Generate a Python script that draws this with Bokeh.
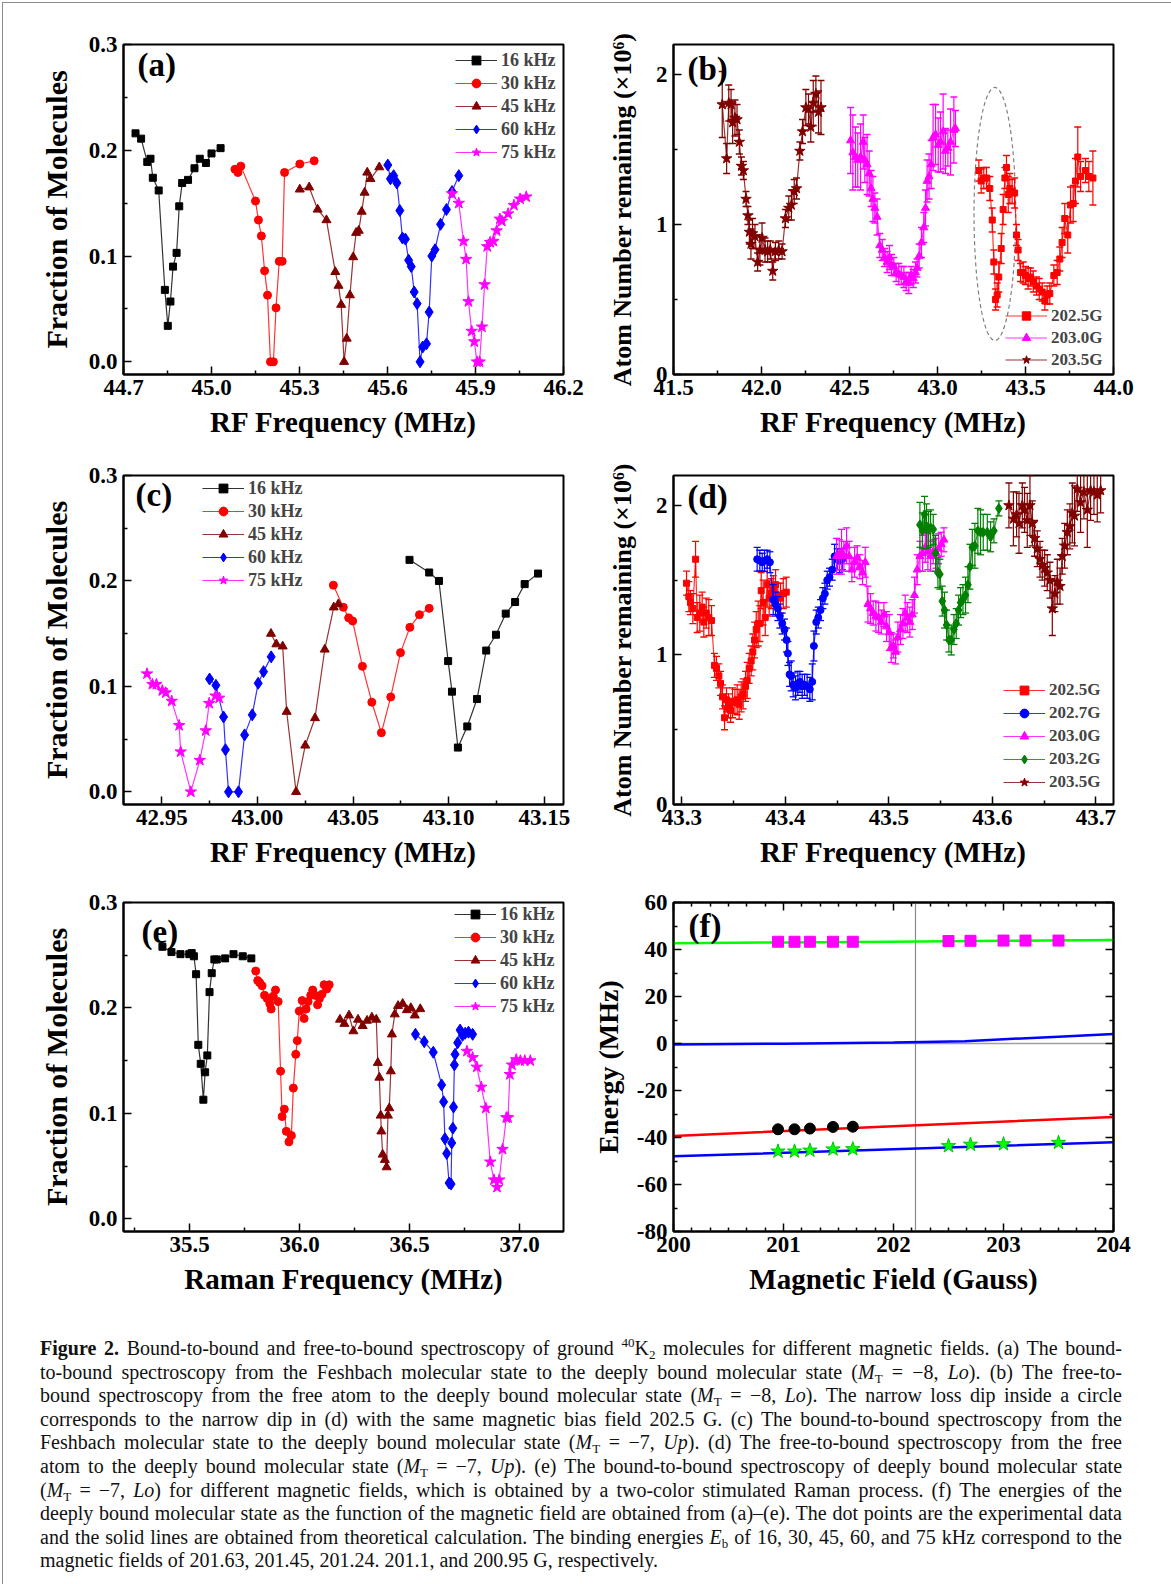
from bokeh.plotting import figure
from bokeh.models import (ColumnDataSource, FixedTicker, NumeralTickFormatter, Legend, LegendItem,
                          Label, Span, Div, LinearAxis, CustomJSTickFormatter)
from bokeh.layouts import column, row
from bokeh.embed import file_html
from bokeh.resources import INLINE

FONT = "Liberation Serif"
BLACK, RED, DRED, BLUE, MAG, GREEN = "#000000", "#FF0000", "#800000", "#0000FF", "#FF00FF", "#008000"

# ---------------- Panel (a) ----------------
a16_x = [44.741, 44.760, 44.781, 44.792, 44.800, 44.820, 44.841, 44.851, 44.860, 44.869, 44.881, 44.890, 44.900, 44.920, 44.942, 44.960, 44.981, 45.000, 45.031]
a16_y = [0.216, 0.211, 0.189, 0.192, 0.174, 0.162, 0.068, 0.034, 0.057, 0.090, 0.103, 0.147, 0.169, 0.172, 0.183, 0.192, 0.188, 0.197, 0.202]
a30_x = [45.080, 45.090, 45.100, 45.150, 45.160, 45.170, 45.181, 45.191, 45.201, 45.211, 45.220, 45.231, 45.241, 45.249, 45.301, 45.350]
a30_y = [0.182, 0.179, 0.185, 0.152, 0.134, 0.119, 0.086, 0.063, 0.0, 0.0, 0.051, 0.095, 0.095, 0.179, 0.187, 0.190]
a45_x = [45.301, 45.333, 45.362, 45.392, 45.422, 45.433, 45.442, 45.452, 45.461, 45.472, 45.483, 45.493, 45.502, 45.512, 45.522, 45.531, 45.542, 45.572]
a45_y = [0.163, 0.165, 0.144, 0.134, 0.085, 0.072, 0.054, 0.0, 0.022, 0.063, 0.099, 0.122, 0.124, 0.142, 0.160, 0.179, 0.173, 0.184]
a60_x = [45.601, 45.610, 45.621, 45.632, 45.642, 45.651, 45.661, 45.672, 45.681, 45.691, 45.701, 45.711, 45.720, 45.733, 45.742, 45.751, 45.762, 45.781, 45.801, 45.820, 45.843]
a60_y = [0.186, 0.173, 0.176, 0.169, 0.143, 0.117, 0.116, 0.096, 0.090, 0.066, 0.055, 0.0, 0.014, 0.017, 0.047, 0.100, 0.106, 0.130, 0.144, 0.161, 0.176]
a75_x = [45.820, 45.843, 45.859, 45.868, 45.876, 45.887, 45.896, 45.905, 45.914, 45.922, 45.931, 45.940, 45.950, 45.961, 45.972, 45.983, 45.990, 46.011, 46.031, 46.052, 46.073]
a75_y = [0.159, 0.150, 0.114, 0.097, 0.057, 0.029, 0.019, 0.0, 0.0, 0.033, 0.073, 0.109, 0.113, 0.114, 0.124, 0.135, 0.133, 0.140, 0.148, 0.154, 0.156]

# ---------------- Panel (b) ----------------
b25_x = [43.235, 43.248, 43.263, 43.278, 43.297, 43.311, 43.320, 43.330, 43.339, 43.348, 43.362, 43.373, 43.383, 43.392, 43.402, 43.411, 43.424, 43.438, 43.449, 43.458, 43.472, 43.487, 43.500, 43.515, 43.528, 43.544, 43.563, 43.578, 43.595, 43.610, 43.623, 43.638, 43.661, 43.680, 43.695, 43.708, 43.723, 43.740, 43.756, 43.771, 43.784, 43.797, 43.813, 43.841, 43.860, 43.883]
b25_y = [1.36, 1.29, 1.31, 1.31, 1.24, 1.03, 0.75, 0.50, 0.53, 0.65, 0.84, 1.10, 1.31, 1.38, 1.20, 1.24, 1.22, 1.21, 0.93, 0.83, 0.68, 0.68, 0.66, 0.64, 0.65, 0.62, 0.59, 0.57, 0.55, 0.49, 0.53, 0.54, 0.66, 0.68, 0.77, 0.88, 1.04, 0.93, 1.13, 1.14, 1.29, 1.45, 1.32, 1.36, 1.32, 1.31]
b25_e = [0.07, 0.08, 0.07, 0.07, 0.08, 0.08, 0.08, 0.07, 0.08, 0.10, 0.10, 0.10, 0.07, 0.08, 0.12, 0.10, 0.08, 0.10, 0.07, 0.07, 0.06, 0.07, 0.06, 0.07, 0.06, 0.07, 0.06, 0.07, 0.06, 0.06, 0.06, 0.07, 0.07, 0.08, 0.08, 0.10, 0.10, 0.12, 0.12, 0.12, 0.15, 0.20, 0.10, 0.08, 0.10, 0.18]
b30_x = [42.506, 42.519, 42.534, 42.547, 42.563, 42.578, 42.587, 42.600, 42.612, 42.623, 42.633, 42.644, 42.657, 42.672, 42.686, 42.699, 42.714, 42.727, 42.739, 42.752, 42.765, 42.780, 42.794, 42.809, 42.822, 42.837, 42.850, 42.862, 42.875, 42.884, 42.896, 42.909, 42.922, 42.932, 42.941, 42.952, 42.964, 42.975, 42.989, 43.004, 43.017, 43.032, 43.045, 43.059, 43.074, 43.093, 43.102]
b30_y = [1.56, 1.48, 1.45, 1.43, 1.45, 1.55, 1.43, 1.40, 1.34, 1.24, 1.17, 1.11, 1.05, 0.86, 0.83, 0.78, 0.75, 0.78, 0.73, 0.72, 0.68, 0.67, 0.66, 0.65, 0.62, 0.61, 0.66, 0.64, 0.68, 0.71, 0.79, 0.88, 0.98, 1.11, 1.29, 1.32, 1.40, 1.58, 1.60, 1.53, 1.55, 1.62, 1.49, 1.51, 1.55, 1.63, 1.64]
b30_e = [0.22, 0.25, 0.20, 0.18, 0.22, 0.18, 0.15, 0.20, 0.15, 0.12, 0.15, 0.10, 0.12, 0.08, 0.07, 0.06, 0.07, 0.08, 0.07, 0.06, 0.06, 0.07, 0.06, 0.07, 0.06, 0.07, 0.06, 0.06, 0.07, 0.06, 0.08, 0.10, 0.10, 0.12, 0.14, 0.15, 0.16, 0.22, 0.20, 0.18, 0.20, 0.25, 0.15, 0.12, 0.22, 0.22, 0.12]
b35_x = [41.777, 41.802, 41.814, 41.827, 41.836, 41.849, 41.861, 41.874, 41.886, 41.897, 41.912, 41.923, 41.931, 41.940, 41.949, 41.963, 41.978, 41.991, 42.003, 42.020, 42.035, 42.050, 42.064, 42.079, 42.098, 42.117, 42.136, 42.155, 42.170, 42.186, 42.199, 42.218, 42.233, 42.252, 42.267, 42.280, 42.294, 42.309, 42.324, 42.338]
b35_y = [1.80, 1.44, 1.81, 1.80, 1.68, 1.71, 1.70, 1.55, 1.39, 1.36, 1.17, 1.06, 0.95, 0.87, 0.94, 0.92, 0.75, 0.83, 0.91, 0.83, 0.82, 0.83, 0.69, 0.82, 0.83, 0.82, 1.04, 1.11, 1.13, 1.22, 1.24, 1.49, 1.62, 1.78, 1.77, 1.65, 1.81, 1.87, 1.75, 1.78]
b35_e = [0.22, 0.10, 0.12, 0.10, 0.14, 0.12, 0.10, 0.08, 0.06, 0.06, 0.05, 0.06, 0.08, 0.10, 0.10, 0.08, 0.06, 0.10, 0.10, 0.08, 0.07, 0.06, 0.06, 0.06, 0.06, 0.05, 0.06, 0.08, 0.10, 0.08, 0.07, 0.06, 0.08, 0.12, 0.10, 0.10, 0.15, 0.12, 0.14, 0.18]
# dashed circle marking the narrow dip (centre, width, height in data units)
ell_x, ell_y, ell_w, ell_h = 43.326, 1.07, 0.237, 1.69

# ---------------- Panel (c) ----------------
c16_x = [43.0795, 43.0898, 43.0949, 43.0997, 43.1017, 43.1048, 43.1097, 43.1148, 43.1196, 43.1247, 43.1298, 43.1347, 43.1397, 43.1467]
c16_y = [0.220, 0.208, 0.200, 0.124, 0.095, 0.042, 0.062, 0.088, 0.134, 0.149, 0.169, 0.180, 0.197, 0.207]
c30_x = [43.0397, 43.0449, 43.0477, 43.0498, 43.0549, 43.0598, 43.0648, 43.0697, 43.0748, 43.0797, 43.0847, 43.0898]
c30_y = [0.196, 0.175, 0.165, 0.162, 0.119, 0.085, 0.056, 0.090, 0.132, 0.156, 0.168, 0.174]
c45_x = [43.0071, 43.0099, 43.0132, 43.0153, 43.0202, 43.0250, 43.0301, 43.0352, 43.0399, 43.0423]
c45_y = [0.150, 0.140, 0.138, 0.076, 0.0, 0.044, 0.070, 0.135, 0.175, 0.178]
c60_x = [42.9750, 42.9783, 42.9823, 42.9833, 42.9849, 42.9901, 42.9933, 42.9973, 43.0004, 43.0032, 43.0072]
c60_y = [0.107, 0.101, 0.071, 0.040, 0.0, 0.0, 0.054, 0.073, 0.103, 0.114, 0.128]
c75_x = [42.9423, 42.9451, 42.9472, 42.9503, 42.9521, 42.9552, 42.9591, 42.9599, 42.9652, 42.9699, 42.9730, 42.9748, 42.9781, 42.9800]
c75_y = [0.112, 0.102, 0.102, 0.096, 0.094, 0.086, 0.063, 0.038, 0.0, 0.030, 0.058, 0.084, 0.091, 0.089]

# ---------------- Panel (d) ----------------
d25_x = [43.3046, 43.3068, 43.3084, 43.3107, 43.3133, 43.3149, 43.3174, 43.3197, 43.3213, 43.3236, 43.3261, 43.3287, 43.3316, 43.3335, 43.3358, 43.3374, 43.3393, 43.3413, 43.3432, 43.3451, 43.3471, 43.3490, 43.3513, 43.3535, 43.3554, 43.3574, 43.3593, 43.3616, 43.3632, 43.3651, 43.3670, 43.3686, 43.3703, 43.3719, 43.3738, 43.3754, 43.3767, 43.3786, 43.3806, 43.3825, 43.3844, 43.3864, 43.3883, 43.3906, 43.3928, 43.3954, 43.3980, 43.4009]
d25_y = [1.48, 1.39, 1.35, 1.31, 1.64, 1.25, 1.28, 1.32, 1.22, 1.28, 1.25, 1.23, 0.93, 0.91, 0.86, 0.81, 0.72, 0.58, 0.70, 0.66, 0.63, 0.68, 0.69, 0.70, 0.67, 0.72, 0.74, 0.79, 0.83, 0.91, 0.96, 1.02, 1.10, 1.17, 1.21, 1.21, 1.43, 1.35, 1.25, 1.47, 1.38, 1.41, 1.43, 1.47, 1.40, 1.38, 1.41, 1.42]
d25_e = [0.08, 0.10, 0.08, 0.10, 0.12, 0.10, 0.12, 0.10, 0.10, 0.10, 0.12, 0.10, 0.08, 0.08, 0.08, 0.08, 0.08, 0.08, 0.08, 0.08, 0.08, 0.10, 0.08, 0.10, 0.10, 0.10, 0.10, 0.10, 0.12, 0.10, 0.10, 0.12, 0.12, 0.12, 0.15, 0.12, 0.12, 0.15, 0.12, 0.15, 0.12, 0.10, 0.10, 0.10, 0.08, 0.10, 0.10, 0.10]
d27_x = [43.3728, 43.3754, 43.3777, 43.3799, 43.3825, 43.3851, 43.3883, 43.3906, 43.3928, 43.3947, 43.3970, 43.3992, 43.4012, 43.4025, 43.4041, 43.4057, 43.4076, 43.4099, 43.4121, 43.4141, 43.4163, 43.4186, 43.4211, 43.4237, 43.4260, 43.4276, 43.4299, 43.4318, 43.4340, 43.4363, 43.4382, 43.4405, 43.4427, 43.4453, 43.4476, 43.4501, 43.4524, 43.4550]
d27_y = [1.64, 1.63, 1.62, 1.63, 1.64, 1.62, 1.37, 1.34, 1.31, 1.26, 1.21, 1.17, 1.10, 1.01, 0.87, 0.86, 0.80, 0.78, 0.81, 0.82, 0.79, 0.80, 0.79, 0.77, 0.82, 1.06, 1.22, 1.25, 1.30, 1.38, 1.41, 1.50, 1.52, 1.57, 1.66, 1.64, 1.63, 1.64]
d27_e = [0.08, 0.07, 0.06, 0.07, 0.06, 0.07, 0.10, 0.08, 0.08, 0.08, 0.07, 0.07, 0.08, 0.08, 0.08, 0.10, 0.08, 0.08, 0.08, 0.07, 0.08, 0.07, 0.08, 0.08, 0.12, 0.10, 0.08, 0.07, 0.07, 0.07, 0.07, 0.06, 0.06, 0.07, 0.08, 0.07, 0.08, 0.07]
d30_x = [43.4495, 43.4521, 43.4543, 43.4566, 43.4592, 43.4617, 43.4643, 43.4669, 43.4695, 43.4720, 43.4746, 43.4772, 43.4798, 43.4823, 43.4849, 43.4875, 43.4901, 43.4927, 43.4952, 43.4978, 43.5004, 43.5023, 43.5043, 43.5065, 43.5088, 43.5113, 43.5136, 43.5158, 43.5178, 43.5203, 43.5226, 43.5248, 43.5274, 43.5300, 43.5326, 43.5352, 43.5377, 43.5403, 43.5429, 43.5455, 43.5480, 43.5506, 43.5532]
d30_y = [1.66, 1.67, 1.69, 1.66, 1.73, 1.66, 1.57, 1.62, 1.65, 1.59, 1.55, 1.62, 1.34, 1.31, 1.28, 1.26, 1.25, 1.22, 1.27, 1.19, 1.15, 1.05, 1.06, 1.02, 1.12, 1.17, 1.21, 1.28, 1.25, 1.22, 1.27, 1.40, 1.57, 1.66, 1.68, 1.72, 1.69, 1.66, 1.69, 1.68, 1.71, 1.74, 1.77]
d30_e = [0.12, 0.10, 0.15, 0.10, 0.12, 0.10, 0.08, 0.10, 0.08, 0.08, 0.08, 0.10, 0.12, 0.10, 0.08, 0.10, 0.10, 0.08, 0.08, 0.10, 0.12, 0.10, 0.08, 0.08, 0.10, 0.10, 0.10, 0.12, 0.10, 0.10, 0.10, 0.12, 0.10, 0.10, 0.12, 0.10, 0.12, 0.10, 0.08, 0.10, 0.10, 0.08, 0.08]
d32_x = [43.5300, 43.5324, 43.5345, 43.5364, 43.5384, 43.5403, 43.5429, 43.5451, 43.5474, 43.5493, 43.5516, 43.5538, 43.5558, 43.5580, 43.5603, 43.5629, 43.5651, 43.5674, 43.5693, 43.5716, 43.5741, 43.5764, 43.5783, 43.5806, 43.5831, 43.5860, 43.5886, 43.5912, 43.5951, 43.5983, 43.6015, 43.6063]
d32_y = [1.87, 1.83, 1.94, 1.86, 1.84, 1.85, 1.84, 1.68, 1.55, 1.54, 1.36, 1.30, 1.20, 1.10, 1.10, 1.17, 1.21, 1.30, 1.35, 1.37, 1.40, 1.47, 1.59, 1.72, 1.73, 1.83, 1.82, 1.82, 1.82, 1.79, 1.83, 1.98]
d32_e = [0.15, 0.12, 0.12, 0.15, 0.12, 0.12, 0.10, 0.12, 0.10, 0.10, 0.10, 0.12, 0.10, 0.08, 0.10, 0.10, 0.10, 0.10, 0.10, 0.10, 0.12, 0.12, 0.15, 0.12, 0.15, 0.15, 0.15, 0.12, 0.12, 0.10, 0.08, 0.05]
d35_x = [43.6160, 43.6203, 43.6234, 43.6257, 43.6289, 43.6311, 43.6337, 43.6363, 43.6386, 43.6408, 43.6434, 43.6460, 43.6482, 43.6505, 43.6530, 43.6556, 43.6579, 43.6604, 43.6627, 43.6653, 43.6675, 43.6698, 43.6724, 43.6749, 43.6772, 43.6794, 43.6820, 43.6852, 43.6884, 43.6917, 43.6949, 43.6981, 43.7013, 43.7046]
d35_y = [2.00, 1.91, 1.94, 1.88, 2.00, 1.97, 1.90, 2.00, 1.88, 1.78, 1.71, 1.64, 1.60, 1.58, 1.55, 1.50, 1.31, 1.41, 1.49, 1.46, 1.66, 1.73, 1.82, 1.86, 1.95, 1.93, 2.11, 2.02, 2.09, 1.97, 2.10, 2.09, 2.07, 2.10]
d35_e = [0.15, 0.18, 0.15, 0.20, 0.15, 0.15, 0.18, 0.20, 0.15, 0.12, 0.12, 0.12, 0.10, 0.12, 0.12, 0.12, 0.18, 0.12, 0.15, 0.12, 0.12, 0.15, 0.15, 0.15, 0.20, 0.20, 0.15, 0.20, 0.18, 0.25, 0.20, 0.15, 0.18, 0.15]

# ---------------- Panel (e) ----------------
e16_x = [35.377, 35.418, 35.459, 35.499, 35.510, 35.520, 35.530, 35.540, 35.551, 35.563, 35.571, 35.581, 35.591, 35.601, 35.613, 35.624, 35.662, 35.700, 35.742, 35.781]
e16_y = [0.258, 0.253, 0.251, 0.251, 0.252, 0.249, 0.232, 0.165, 0.147, 0.113, 0.139, 0.155, 0.215, 0.233, 0.246, 0.246, 0.247, 0.251, 0.249, 0.247]
e30_x = [35.801, 35.810, 35.819, 35.830, 35.841, 35.853, 35.865, 35.871, 35.880, 35.891, 35.903, 35.914, 35.921, 35.931, 35.940, 35.952, 35.963, 35.972, 35.983, 35.990, 35.999, 36.012, 36.021, 36.030, 36.039, 36.051, 36.060, 36.070, 36.082, 36.091, 36.102, 36.112, 36.124, 36.135]
e30_y = [0.235, 0.226, 0.224, 0.221, 0.212, 0.209, 0.204, 0.199, 0.211, 0.217, 0.206, 0.140, 0.097, 0.104, 0.083, 0.073, 0.079, 0.124, 0.156, 0.169, 0.197, 0.207, 0.190, 0.199, 0.206, 0.212, 0.217, 0.212, 0.203, 0.209, 0.213, 0.222, 0.218, 0.222]
e45_x = [36.184, 36.204, 36.225, 36.245, 36.266, 36.287, 36.307, 36.329, 36.349, 36.356, 36.363, 36.369, 36.372, 36.378, 36.388, 36.396, 36.402, 36.408, 36.415, 36.420, 36.433, 36.448, 36.469, 36.488, 36.506, 36.524, 36.549]
e45_y = [0.189, 0.185, 0.193, 0.178, 0.189, 0.183, 0.188, 0.191, 0.189, 0.148, 0.134, 0.098, 0.083, 0.061, 0.056, 0.049, 0.098, 0.105, 0.140, 0.175, 0.194, 0.202, 0.204, 0.198, 0.200, 0.193, 0.199]
e60_x = [36.527, 36.567, 36.608, 36.646, 36.655, 36.661, 36.669, 36.680, 36.689, 36.692, 36.697, 36.700, 36.704, 36.707, 36.719, 36.730, 36.741, 36.753, 36.768, 36.787]
e60_y = [0.175, 0.168, 0.158, 0.127, 0.111, 0.076, 0.062, 0.034, 0.033, 0.072, 0.086, 0.106, 0.146, 0.156, 0.167, 0.179, 0.174, 0.176, 0.177, 0.175]
e75_x = [36.761, 36.787, 36.806, 36.826, 36.847, 36.867, 36.884, 36.898, 36.908, 36.923, 36.940, 36.948, 36.956, 36.966, 36.985, 37.004, 37.024, 37.049]
e75_y = [0.159, 0.153, 0.144, 0.125, 0.105, 0.054, 0.037, 0.030, 0.037, 0.066, 0.096, 0.096, 0.137, 0.146, 0.151, 0.150, 0.150, 0.150]

# ---------------- Panel (f) ----------------
f_sq_B = [200.95, 201.1, 201.24, 201.45, 201.63, 202.5, 202.7, 203.0, 203.2, 203.5]
f_sq_E = [43.3, 43.3, 43.3, 43.3, 43.3, 43.6, 43.7, 43.8, 43.8, 43.8]
f_ci_B = [200.95, 201.1, 201.24, 201.45, 201.63]
f_ci_E = [-36.5, -36.5, -36.2, -35.5, -35.4]
f_st_B = [200.95, 201.1, 201.24, 201.45, 201.63, 202.5, 202.7, 203.0, 203.5]
f_st_E = [-45.9, -45.9, -45.5, -45.0, -44.9, -43.6, -43.0, -42.8, -42.2]
f_green_B = [200, 201, 202, 203, 204]
f_green_E = [42.7, 43.0, 43.3, 43.7, 44.0]
f_bup_B = [200, 201, 202, 202.65, 203, 203.5, 204]
f_bup_E = [-0.4, -0.1, 0.4, 1.0, 1.8, 2.9, 4.0]
f_red_B = [200, 202, 204]
f_red_E = [-39.4, -35.2, -31.3]
f_blo_B = [200, 202, 204]
f_blo_E = [-48.0, -45.0, -42.0]
f_Bc = 202.2

# ---------------- ticks ----------------
a_xticks = [44.7, 45.0, 45.3, 45.6, 45.9, 46.2]
b_xticks = [41.5, 42.0, 42.5, 43.0, 43.5, 44.0]
c_xticks = [42.95, 43.00, 43.05, 43.10, 43.15]
d_xticks = [43.3, 43.4, 43.5, 43.6, 43.7]
e_xticks = [35.5, 36.0, 36.5, 37.0]
f_xticks = [200, 201, 202, 203, 204]
frac_yticks = [0.0, 0.1, 0.2, 0.3]
atom_yticks = [0, 1, 2]
f_yticks = [-80, -60, -40, -20, 0, 20, 40, 60]

kHz_labels = ["16 kHz", "30 kHz", "45 kHz", "60 kHz", "75 kHz"]


def minors(ticks, n, lo, hi):
    step = (ticks[1] - ticks[0]) / n
    out = []
    start = ticks[0] - step * n
    k = 0
    while True:
        v = start + k * step
        if v > hi + 1e-9:
            break
        if v >= lo - 1e-9 and k % n != 0:
            out.append(round(v, 6))
        k += 1
    return out


def style_axis(ax, lab_size="23px", axlab_size="29px"):
    ax.major_tick_in = 8
    ax.major_tick_out = 0
    ax.minor_tick_in = 4
    ax.minor_tick_out = 0
    ax.axis_line_width = 2
    ax.axis_line_color = "black"
    ax.major_tick_line_width = 1.5
    ax.minor_tick_line_width = 1.5
    ax.major_label_text_font = FONT
    ax.major_label_text_font_style = "bold"
    ax.major_label_text_font_size = lab_size
    ax.major_label_text_color = "black"
    ax.axis_label_text_font = FONT
    ax.axis_label_text_font_style = "bold"
    ax.axis_label_text_font_size = axlab_size
    ax.axis_label_text_color = "black"


def make_fig(xr, yr, w, h, bl, br, bt, bb, xt, xmin, xfmt, yt, ymin, yfmt, xlabel, ylabel, ylab_size="30px"):
    p = figure(width=w, height=h, x_range=xr, y_range=yr, output_backend="svg", toolbar_location=None,
               min_border_left=bl, min_border_right=br, min_border_top=bt, min_border_bottom=bb)
    p.xgrid.visible = False
    p.ygrid.visible = False
    p.outline_line_color = "black"
    p.outline_line_width = 2
    p.outline_line_alpha = 1.0
    p.background_fill_color = "white"
    p.border_fill_color = None
    xa = p.xaxis[0]
    ya = p.yaxis[0]
    style_axis(xa)
    style_axis(ya, axlab_size=ylab_size)
    xa.ticker = FixedTicker(ticks=xt, minor_ticks=xmin)
    ya.ticker = FixedTicker(ticks=yt, minor_ticks=ymin)
    if xfmt:
        xa.formatter = NumeralTickFormatter(format=xfmt)
    if yfmt:
        ya.formatter = NumeralTickFormatter(format=yfmt)
    xa.axis_label = xlabel
    ya.axis_label = ylabel
    xa.major_label_standoff = 5
    xa.axis_label_standoff = 8
    ya.major_label_standoff = 6
    ya.axis_label_standoff = 13
    return p


def series(p, xs, ys, color, marker, size, errs=None, lw=1.2, cap=7):
    if errs is not None:
        lo = [y - e for y, e in zip(ys, errs)]
        hi = [y + e for y, e in zip(ys, errs)]
        es = ColumnDataSource(dict(x=xs, lo=lo, hi=hi))
        p.segment("x", "lo", "x", "hi", source=es, line_color=color, line_width=1.2)
        p.scatter("x", "lo", source=es, marker="dash", size=cap, line_color=color, line_width=1.3)
        p.scatter("x", "hi", source=es, marker="dash", size=cap, line_color=color, line_width=1.3)
    src = ColumnDataSource(dict(x=xs, y=ys))
    ln = p.line("x", "y", source=src, line_color=color, line_width=lw, line_alpha=0.8)
    sc = p.scatter("x", "y", source=src, marker=marker, size=size, fill_color=color, line_color=color)
    return [ln, sc]


def add_legend(p, labels, rends, x, y, font="18px", gh=22, sp=1):
    lg = Legend(items=[LegendItem(label=l, renderers=r) for l, r in zip(labels, rends)],
                location=(x, y), padding=0, margin=0, spacing=sp, glyph_width=42,
                glyph_height=gh, label_height=gh, label_standoff=4,
                label_text_font=FONT, label_text_font_style="bold", label_text_font_size=font,
                background_fill_alpha=0, border_line_alpha=0)
    p.add_layout(lg)


def panel_label(p, text, dx, dtop, fh):
    p.add_layout(Label(x=dx, y=fh - dtop, x_units="screen", y_units="screen", text=text,
                       text_font=FONT, text_font_style="bold", text_font_size="33px",
                       text_baseline="top", text_color="black"))


# layout geometry (page origin at 0,0)
LW, LBL, LBR = 588, 123, 25
RW, RBL, RBR = 582, 85, 57

# ---------- (a) ----------
FH1 = 330
pa = make_fig((44.7, 46.2), (-0.012, 0.30), LW, 454, LBL, LBR, 44, 80,
              a_xticks, minors(a_xticks, 2, 44.7, 46.2), "0.0",
              frac_yticks, minors(frac_yticks, 2, -0.012, 0.3), "0.0",
              "RF Frequency (MHz)", "Fraction of Molecules")
ra = [series(pa, a16_x, a16_y, BLACK, "square", 7),
      series(pa, a30_x, a30_y, RED, "circle", 8),
      series(pa, a45_x, a45_y, DRED, "triangle", 9),
      series(pa, a60_x, a60_y, BLUE, "diamond", 12),
      series(pa, a75_x, a75_y, MAG, "star", 12)]
add_legend(pa, kHz_labels, ra, 332, 211)
panel_label(pa, "(a)", 14, 2, FH1)

# ---------- (b) ----------
pb = make_fig((41.5, 44.0), (0, 2.2), RW, 454, RBL, RBR, 44, 80,
              b_xticks, minors(b_xticks, 2, 41.5, 44.0), "0.0",
              atom_yticks, minors(atom_yticks, 2, 0, 2.2), "0",
              "RF Frequency (MHz)", "Atom Number remaining (×10⁶)", ylab_size="26px")
pb.yaxis[0].axis_label_standoff = 16
pb.ellipse(x=[ell_x], y=[ell_y], width=[ell_w], height=[ell_h], fill_alpha=0,
           line_color="#808080", line_dash="4 3", line_width=1.2)
rb35 = series(pb, b35_x, b35_y, DRED, "star", 11, b35_e)
rb30 = series(pb, b30_x, b30_y, MAG, "triangle", 8, b30_e)
rb25 = series(pb, b25_x, b25_y, RED, "square", 6, b25_e)
add_legend(pb, ["202.5G", "203.0G", "203.5G"], [rb25, rb30, rb35], 332, 4, font="17px", gh=21)
panel_label(pb, "(b)", 14, 6, FH1)

# ---------- (c) ----------
FH2 = 329
pc = make_fig((42.93, 43.16), (-0.012, 0.30), LW, 428, LBL, LBR, 21, 78,
              c_xticks, minors(c_xticks, 2, 42.93, 43.16), "0.00",
              frac_yticks, minors(frac_yticks, 2, -0.012, 0.3), "0.0",
              "RF Frequency (MHz)", "Fraction of Molecules")
rc = [series(pc, c16_x, c16_y, BLACK, "square", 7),
      series(pc, c30_x, c30_y, RED, "circle", 8),
      series(pc, c45_x, c45_y, DRED, "triangle", 9),
      series(pc, c60_x, c60_y, BLUE, "diamond", 12),
      series(pc, c75_x, c75_y, MAG, "star", 12)]
add_legend(pc, kHz_labels, rc, 79, 213)
panel_label(pc, "(c)", 12, 1, FH2)

# ---------- (d) ----------
pd = make_fig((43.292, 43.717), (0, 2.2), RW, 428, RBL, RBR, 21, 78,
              d_xticks, minors(d_xticks, 2, 43.292, 43.717), "0.0",
              atom_yticks, minors(atom_yticks, 2, 0, 2.2), "0",
              "RF Frequency (MHz)", "Atom Number remaining (×10⁶)", ylab_size="26px")
pd.yaxis[0].axis_label_standoff = 16
rd25 = series(pd, d25_x, d25_y, RED, "square", 6, d25_e)
rd27 = series(pd, d27_x, d27_y, BLUE, "circle", 7, d27_e)
rd30 = series(pd, d30_x, d30_y, MAG, "triangle", 8, d30_e)
rd32 = series(pd, d32_x, d32_y, GREEN, "diamond", 10, d32_e)
rd35 = series(pd, d35_x, d35_y, DRED, "star", 11, d35_e)
add_legend(pd, ["202.5G", "202.7G", "203.0G", "203.2G", "203.5G"],
           [rd25, rd27, rd30, rd32, rd35], 330, 11, font="17px", gh=22, sp=1)
panel_label(pd, "(d)", 14, 3, FH2)

# ---------- (e) ----------
pe = make_fig((35.2, 37.2), (-0.012, 0.30), LW, 423, LBL, LBR, 20, 74,
              e_xticks, minors(e_xticks, 2, 35.2, 37.2), "0.0",
              frac_yticks, minors(frac_yticks, 2, -0.012, 0.3), "0.0",
              "Raman Frequency (MHz)", "Fraction of Molecules")
re_ = [series(pe, e16_x, e16_y, BLACK, "square", 7),
       series(pe, e30_x, e30_y, RED, "circle", 8),
       series(pe, e45_x, e45_y, DRED, "triangle", 9),
       series(pe, e60_x, e60_y, BLUE, "diamond", 12),
       series(pe, e75_x, e75_y, MAG, "star", 12)]
add_legend(pe, kHz_labels, re_, 331, 214)
panel_label(pe, "(e)", 18, 11, FH2)

# ---------- (f) ----------
pf = make_fig((200, 204), (-80, 60), RW, 423, RBL, RBR, 20, 74,
              f_xticks, minors(f_xticks, 6, 200, 204), None,
              f_yticks, minors(f_yticks, 2, -80, 60), None,
              "Magnetic Field (Gauss)", "Energy (MHz)", ylab_size="28px")
pf.yaxis[0].formatter = CustomJSTickFormatter(code="return tick.toString();")
pf.yaxis[0].axis_label_standoff = 10
for place, tk, mn in (("above", f_xticks, minors(f_xticks, 6, 200, 204)),
                      ("right", f_yticks, minors(f_yticks, 2, -80, 60))):
    ax = LinearAxis(ticker=FixedTicker(ticks=tk, minor_ticks=mn),
                    formatter=CustomJSTickFormatter(code="return ''"))
    style_axis(ax, lab_size="1px")
    ax.major_label_standoff = 0
    pf.add_layout(ax, place)
pf.add_layout(Span(location=0, dimension="width", line_color="#a0a0a0", line_width=1.5, level="underlay"))
pf.add_layout(Span(location=f_Bc, dimension="height", line_color="#8a8a8a", line_width=1.2, level="underlay"))
pf.line(f_green_B, f_green_E, line_color="#00FF00", line_width=2.5)
pf.line(f_bup_B, f_bup_E, line_color=BLUE, line_width=2.5)
pf.line(f_red_B, f_red_E, line_color=RED, line_width=2.5)
pf.line(f_blo_B, f_blo_E, line_color=BLUE, line_width=2.5)
pf.scatter(f_sq_B, f_sq_E, marker="square", size=11, fill_color=MAG, line_color=MAG)
pf.scatter(f_ci_B, f_ci_E, marker="circle", size=11, fill_color=BLACK, line_color=BLACK)
pf.scatter(f_st_B, f_st_E, marker="star", size=15, fill_color="#00FF00", line_color="#00C800")
panel_label(pf, "(f)", 15, 5, FH2)

# ---------- caption ----------
def sub(t):
    return f"<span style='font-size:13px;vertical-align:-4px;line-height:0'>{t}</span>"

def sup(t):
    return f"<span style='font-size:13px;vertical-align:8px;line-height:0'>{t}</span>"

MT = "<i>M</i>" + sub("T")
caption_lines = [
    "<b>Figure 2.</b> Bound-to-bound and free-to-bound spectroscopy of ground " + sup("40") + "K" + sub("2") + " molecules for different magnetic fields. (a) The bound-",
    "to-bound spectroscopy from the Feshbach molecular state to the deeply bound molecular state (" + MT + " = \u22128, <i>Lo</i>). (b) The free-to-",
    "bound spectroscopy from the free atom to the deeply bound molecular state (" + MT + " = \u22128, <i>Lo</i>). The narrow loss dip inside a circle",
    "corresponds to the narrow dip in (d) with the same magnetic bias field 202.5 G. (c) The bound-to-bound spectroscopy from the",
    "Feshbach molecular state to the deeply bound molecular state (" + MT + " = \u22127, <i>Up</i>). (d) The free-to-bound spectroscopy from the free",
    "atom to the deeply bound molecular state (" + MT + " = \u22127, <i>Up</i>). (e) The bound-to-bound spectroscopy of deeply bound molecular state",
    "(" + MT + " = \u22127, <i>Lo</i>) for different magnetic fields, which is obtained by a two-color stimulated Raman process. (f) The energies of the",
    "deeply bound molecular state as the function of the magnetic field are obtained from (a)\u2013(e). The dot points are the experimental data",
    "and the solid lines are obtained from theoretical calculation. The binding energies <i>E</i>" + sub("b") + " of 16, 30, 45, 60, and 75 kHz correspond to the",
    "magnetic fields of 201.63, 201.45, 201.24. 201.1, and 200.95 G, respectively.",
]
parts = []
for i, ln in enumerate(caption_lines):
    last = "left" if i == len(caption_lines) - 1 else "justify"
    parts.append(f"<div style='width:1082px;height:23.6px;white-space:nowrap;text-align:justify;text-align-last:{last}'>{ln}</div>")
cap_html = ("<div style=\"font-family:'Liberation Serif',serif;font-size:20px;line-height:23.6px;color:#111;"
            "padding:27px 0 0 35px;\">" + "".join(parts) + "</div>")
cap = Div(text=cap_html, width=LW + RW, height=278)

layout = column(row(pa, pb), row(pc, pd), row(pe, pf), cap,
                styles={"outline": "1.5px solid #8c8c8c", "outline-offset": "-3px"})

open("out.html", "w").write(file_html(layout, INLINE, "Figure 2"))
